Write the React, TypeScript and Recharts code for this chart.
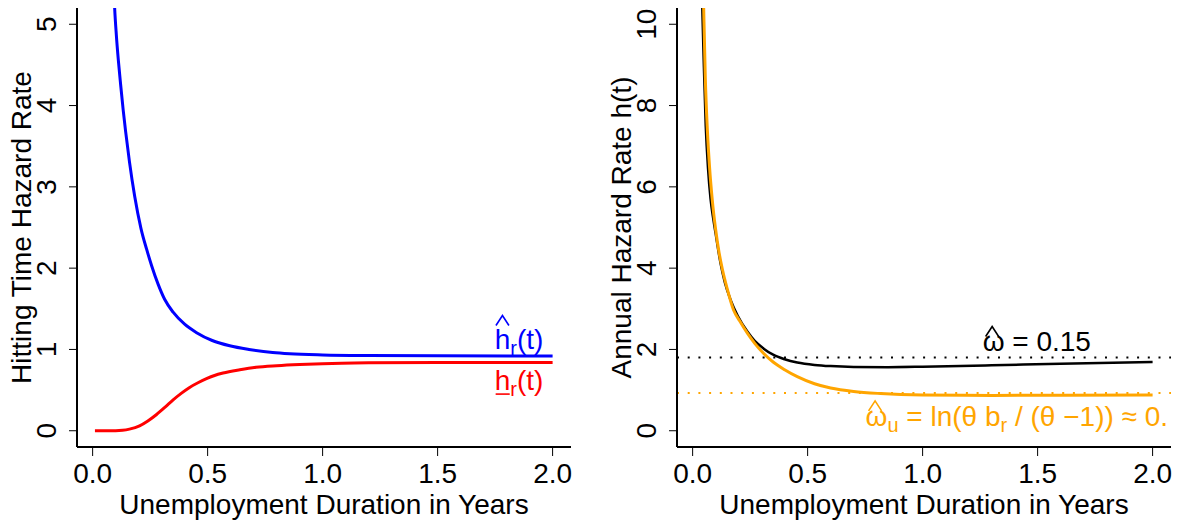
import React from 'react';
import { LineChart, Line, XAxis, YAxis, ReferenceLine, ReferenceDot, Label } from 'recharts';

// ---- ticks ----
const xTicks = [0, 0.5, 1, 1.5, 2];
const xTickLabels = ['0.0', '0.5', '1.0', '1.5', '2.0'];
const leftYTicks = [0, 1, 2, 3, 4, 5];
const rightYTicks = [0, 2, 4, 6, 8, 10];

// ---- left panel: hitting time hazard rates ----
const blueT = [0.088, 0.0957, 0.103, 0.112, 0.122, 0.133, 0.1435, 0.16, 0.183, 0.21, 0.235, 0.2565, 0.285, 0.313, 0.35, 0.4, 0.452, 0.52, 0.596, 0.68, 0.783, 0.857, 1.0, 1.2, 1.5, 2.0];
const blueV = [5.75, 5.2, 4.87, 4.55, 4.25, 3.94, 3.68, 3.31, 2.88, 2.49, 2.23, 2.03, 1.8, 1.617, 1.458, 1.31, 1.206, 1.11, 1.045, 1.0, 0.962, 0.947, 0.933, 0.925, 0.921, 0.92];

const redT = [0.01, 0.1, 0.13, 0.16, 0.204, 0.24, 0.278, 0.315, 0.35, 0.385, 0.42, 0.458, 0.495, 0.53, 0.567, 0.64, 0.71, 0.8, 0.9, 1.0, 1.2, 1.5, 2.0];
const redV = [0, 0, 0.005, 0.02, 0.06, 0.12, 0.2, 0.29, 0.38, 0.46, 0.53, 0.59, 0.64, 0.68, 0.71, 0.75, 0.78, 0.8, 0.815, 0.825, 0.835, 0.84, 0.84];

// ---- right panel: annual hazard rates ----
const blackT = [0.036, 0.042, 0.049, 0.057, 0.067, 0.078, 0.09, 0.1, 0.112, 0.122, 0.14, 0.165, 0.196, 0.238, 0.27, 0.309, 0.35, 0.4, 0.455, 0.53, 0.6, 0.7, 0.85, 1.0, 1.3, 1.6, 2.0];
const blackV = [12.0, 10.4, 8.95, 7.5, 6.45, 5.7, 5.2, 4.85, 4.42, 4.1, 3.65, 3.22, 2.83, 2.44, 2.21, 2.02, 1.87, 1.76, 1.68, 1.62, 1.59, 1.57, 1.565, 1.575, 1.61, 1.65, 1.69];

const orangeT = [0.042, 0.048, 0.055, 0.064, 0.074, 0.085, 0.1, 0.115, 0.129, 0.15, 0.178, 0.205, 0.238, 0.27, 0.309, 0.35, 0.4, 0.455, 0.53, 0.6, 0.7, 0.817, 1.0, 1.3, 1.6, 2.0];
const orangeV = [12.0, 10.4, 8.7, 7.4, 6.45, 5.7, 4.95, 4.38, 3.98, 3.5, 2.97, 2.7, 2.4, 2.15, 1.9, 1.69, 1.5, 1.33, 1.155, 1.05, 0.965, 0.915, 0.88, 0.87, 0.875, 0.88];

const omegaLevel = 1.8;
const omegaULevel = 0.93;

const zip = (ts: number[], vs: number[]) => ts.map((t, i) => ({ t, v: vs[i] }));
const blueData = zip(blueT, blueV);
const redData = zip(redT, redV);
const blackData = zip(blackT, blackV);
const orangeData = zip(orangeT, orangeV);

const FONT = '"Liberation Sans", Arial, Helvetica, sans-serif';
const FS = 28;
const X_DOMAIN: [number, number] = [-0.068, 2.08];

const XTick = (props: any) => {
  const { x, y, payload } = props;
  const i = xTicks.indexOf(payload.value);
  return (
    <text x={x} y={y + 25} textAnchor="middle" fontSize={FS} fontFamily={FONT} fill="#000">
      {i >= 0 ? xTickLabels[i] : String(payload.value)}
    </text>
  );
};

const YTick = (props: any) => {
  const { x, y, payload } = props;
  const bx = x - 11;
  return (
    <text x={bx} y={y} transform={`rotate(-90 ${bx} ${y})`} textAnchor="middle" fontSize={FS} fontFamily={FONT} fill="#000">
      {String(payload.value)}
    </text>
  );
};

const xTitle = (props: any) => {
  const vb = props.viewBox || {};
  return (
    <text x={vb.x + vb.width / 2} y={vb.y + 67} textAnchor="middle" fontSize={FS} fontFamily={FONT} fill="#000">
      Unemployment Duration in Years
    </text>
  );
};

const makeYTitle = (txt: string) => (props: any) => {
  const vb = props.viewBox || {};
  const cx = 31;
  const cy = vb.y + vb.height / 2;
  return (
    <text x={cx} y={cy} transform={`rotate(-90 ${cx} ${cy})`} textAnchor="middle" fontSize={FS} fontFamily={FONT} fill="#000">
      {txt}
    </text>
  );
};

const hat = (cx: number, bottom: number, top: number, color: string) => (
  <path d={`M${cx - 6.5} ${bottom} L${cx} ${top} L${cx + 6.5} ${bottom}`} stroke={color} strokeWidth={1.6} fill="none" />
);

const BlueLabel = (p: any) => {
  const { cx, cy } = p;
  const c = '#0000FF';
  return (
    <g>
      <text x={cx} y={cy} fill={c} fontSize={FS} fontFamily={FONT}>
        h<tspan dy={6} fontSize={20}>r</tspan><tspan dy={-6}>(t)</tspan>
      </text>
      {hat(cx + 7.8, cy - 24, cy - 34, c)}
    </g>
  );
};

const RedLabel = (p: any) => {
  const { cx, cy } = p;
  const c = '#FF0000';
  return (
    <g>
      <text x={cx} y={cy} fill={c} fontSize={FS} fontFamily={FONT}>
        h<tspan dy={6} fontSize={20}>r</tspan><tspan dy={-6}>(t)</tspan>
      </text>
      <path d={`M${cx + 1} ${cy + 4} L${cx + 15} ${cy + 4}`} stroke={c} strokeWidth={1.6} />
    </g>
  );
};

const OmegaLabel = (p: any) => {
  const { cx, cy } = p;
  const c = '#000000';
  return (
    <g>
      <text x={cx} y={cy} fill={c} fontSize={FS} fontFamily={FONT}>
        ω = 0.15
      </text>
      {hat(cx + 9.5, cy - 15, cy - 25, c)}
    </g>
  );
};

const OmegaULabel = (p: any) => {
  const { cx, cy } = p;
  const c = '#FFA500';
  return (
    <g>
      <text x={cx} y={cy} fill={c} fontSize={FS} fontFamily={FONT}>
        ω<tspan dy={6} fontSize={20}>u</tspan>
        <tspan dy={-6}> = ln(θ b</tspan>
        <tspan dy={6} fontSize={20}>r</tspan>
        <tspan dy={-6}> / (θ −1)) ≈ 0.</tspan>
      </text>
      {hat(cx + 9.5, cy - 15, cy - 25, c)}
    </g>
  );
};

const axisLine = { stroke: '#000', strokeWidth: 2 };
const tickLine = { stroke: '#000', strokeWidth: 1 };

export default function App() {
  return (
    <div style={{ position: 'absolute', left: 0, top: 0, width: 1177, height: 527, background: '#fff' }}>
      <div style={{ position: 'absolute', left: 0, top: 0 }}>
        <LineChart width={588} height={527} margin={{ top: 8, right: 17, bottom: 0, left: 0 }}>
          <XAxis
            type="number"
            dataKey="t"
            domain={X_DOMAIN}
            ticks={xTicks}
            allowDataOverflow
            height={80}
            axisLine={axisLine}
            tickLine={tickLine}
            tickSize={9}
            tick={<XTick />}
            interval={0}
          >
            <Label content={xTitle} />
          </XAxis>
          <YAxis
            type="number"
            dataKey="v"
            domain={[-0.2, 5.2]}
            ticks={leftYTicks}
            allowDataOverflow
            width={77}
            axisLine={axisLine}
            tickLine={tickLine}
            tickSize={8}
            tick={<YTick />}
            interval={0}
          >
            <Label content={makeYTitle('Hitting Time Hazard Rate')} />
          </YAxis>
          <Line data={blueData} dataKey="v" type="monotone" stroke="#0000FF" strokeWidth={3} dot={false} isAnimationActive={false} />
          <Line data={redData} dataKey="v" type="monotone" stroke="#FF0000" strokeWidth={3} dot={false} isAnimationActive={false} />
          <ReferenceDot x={1.748} y={1.0} r={0} shape={BlueLabel} />
          <ReferenceDot x={1.748} y={0.5} r={0} shape={RedLabel} />
        </LineChart>
      </div>
      <div style={{ position: 'absolute', left: 600, top: 0 }}>
        <LineChart width={577} height={527} margin={{ top: 8, right: 6, bottom: 0, left: 0 }}>
          <XAxis
            type="number"
            dataKey="t"
            domain={X_DOMAIN}
            ticks={xTicks}
            allowDataOverflow
            height={80}
            axisLine={axisLine}
            tickLine={tickLine}
            tickSize={9}
            tick={<XTick />}
            interval={0}
          >
            <Label content={xTitle} />
          </XAxis>
          <YAxis
            type="number"
            dataKey="v"
            domain={[-0.4, 10.4]}
            ticks={rightYTicks}
            allowDataOverflow
            width={77}
            axisLine={axisLine}
            tickLine={tickLine}
            tickSize={8}
            tick={<YTick />}
            interval={0}
          >
            <Label content={makeYTitle('Annual Hazard Rate h(t)')} />
          </YAxis>
          <ReferenceLine y={omegaLevel} stroke="#000" strokeWidth={2} strokeDasharray="2 8.7" />
          <ReferenceLine y={omegaULevel} stroke="#FFA500" strokeWidth={2} strokeDasharray="2 8.7" />
          <Line data={blackData} dataKey="v" type="monotone" stroke="#000000" strokeWidth={2.5} dot={false} isAnimationActive={false} />
          <Line data={orangeData} dataKey="v" type="monotone" stroke="#FFA500" strokeWidth={3} dot={false} isAnimationActive={false} />
          <ReferenceDot x={1.261} y={1.95} r={0} shape={OmegaLabel} />
          <ReferenceDot x={0.752} y={0.12} r={0} shape={OmegaULabel} />
        </LineChart>
      </div>
    </div>
  );
}
